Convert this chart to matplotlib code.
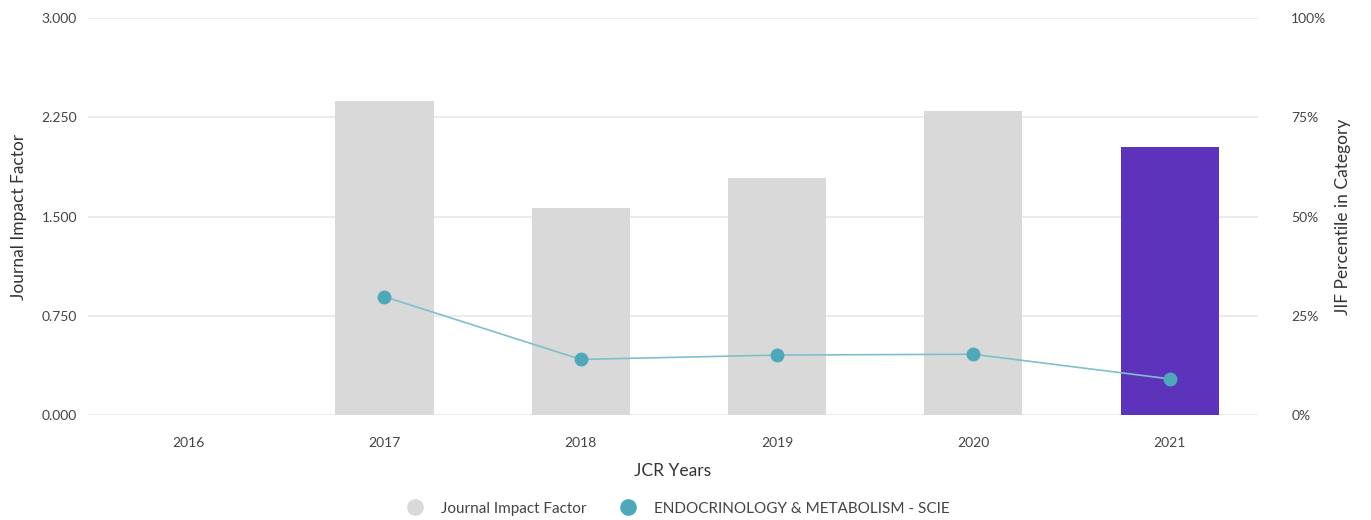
import matplotlib.pyplot as plt
from matplotlib.lines import Line2D
from matplotlib.ticker import FuncFormatter

# data
years = ["2016", "2017", "2018", "2019", "2020", "2021"]
jif = [None, 2.37, 1.565, 1.79, 2.30, 2.025]
percentile = [None, 29.8, 14.0, 15.1, 15.3, 9.1]
bar_colors = ["#d9d9d9", "#d9d9d9", "#d9d9d9", "#d9d9d9", "#d9d9d9", "#5e33bb"]

plt.rcParams['font.family'] = ['Lato', 'DejaVu Sans']

fig = plt.figure(figsize=(13.71, 5.2), dpi=100)
ax = fig.add_axes([88 / 1371, 105 / 520, 1170 / 1371, 397 / 520])
ax2 = ax.twinx()

x = list(range(len(years)))
bx = [i for i, v in zip(x, jif) if v is not None]
bv = [v for v in jif if v is not None]
bc = [c for c, v in zip(bar_colors, jif) if v is not None]
ax.bar(bx, bv, width=0.5, color=bc, zorder=2)

lx = [i for i, v in zip(x, percentile) if v is not None]
lv = [v for v in percentile if v is not None]
ax2.plot(lx, lv, color="#7fbfcc", linewidth=1.2, zorder=3)
ax2.plot(lx, lv, linestyle="none", marker="o", markersize=9,
         color="#4fa8ba", zorder=4)

ax.set_xlim(-0.51, 5.45)
ax.set_ylim(0, 3.0)
ax2.set_ylim(0, 100)
ax.set_xticks(x)
ax.set_xticklabels(years)
ax.set_yticks([0, 0.75, 1.5, 2.25, 3.0])
ax.yaxis.set_major_formatter(FuncFormatter(lambda v, p: f"{v:.3f}"))
ax2.set_yticks([0, 25, 50, 75, 100])
ax2.yaxis.set_major_formatter(FuncFormatter(lambda v, p: f"{v:.0f}%"))

ax.grid(axis="y", color="#e8e8e8", linewidth=1.2, zorder=0)
ax.set_axisbelow(True)
for a in (ax, ax2):
    for s in a.spines.values():
        s.set_visible(False)
    a.tick_params(length=0, labelsize=10, labelcolor="#444444")
ax.tick_params(axis="y", pad=8)
ax.tick_params(axis="x", pad=16)
ax2.tick_params(axis="y", pad=24)

ax.set_xlabel("JCR Years", fontsize=12.5, color="#333333", labelpad=10)
ax.set_ylabel("Journal Impact Factor", fontsize=12.5, color="#333333", labelpad=10)
ax2.set_ylabel("JIF Percentile in Category", fontsize=12.5, color="#333333", labelpad=6)

handles = [
    Line2D([], [], linestyle="none", marker="o", markersize=11, color="#d9d9d9",
           label="Journal Impact Factor"),
    Line2D([], [], linestyle="none", marker="o", markersize=11, color="#4fa8ba",
           label="ENDOCRINOLOGY & METABOLISM - SCIE"),
]
fig.legend(handles=handles, loc="center", bbox_to_anchor=(0.492, 0.022), ncol=2,
           frameon=False, fontsize=11, labelcolor="#444444", handletextpad=0.7,
           columnspacing=1.7)

fig.savefig("out.png", dpi=100)
